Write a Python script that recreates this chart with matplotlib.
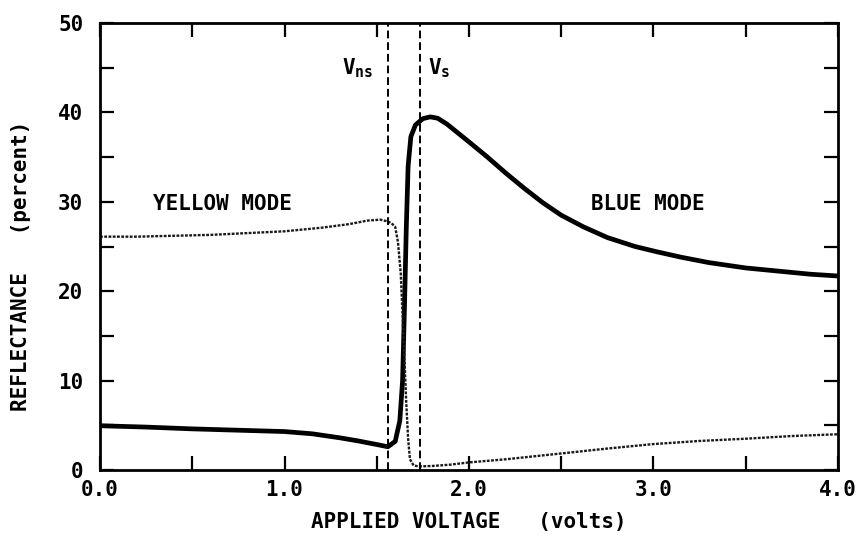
import matplotlib
matplotlib.use("Agg")
import matplotlib.pyplot as plt
from matplotlib.ticker import MultipleLocator, FixedLocator

plt.rcParams['font.family'] = ['DejaVu Sans Mono']
plt.rcParams['font.weight'] = 'bold'
plt.rcParams['axes.labelweight'] = 'bold'
plt.rcParams['mathtext.fontset'] = 'custom'
plt.rcParams['mathtext.rm'] = 'DejaVu Sans Mono:bold'

# Solid (thick) curve: reflectance vs applied voltage
solid_v = [0.0, 0.25, 0.5, 0.75, 1.0, 1.15, 1.3, 1.4, 1.5, 1.56, 1.60, 1.625,
           1.64, 1.65, 1.66, 1.67, 1.685, 1.71, 1.75, 1.79, 1.83, 1.88, 1.94,
           2.0, 2.1, 2.2, 2.3, 2.4, 2.5, 2.62, 2.75, 2.9, 3.02, 3.15, 3.3,
           3.5, 3.7, 3.85, 4.0]
solid_r = [4.95, 4.8, 4.6, 4.45, 4.3, 4.05, 3.6, 3.25, 2.85, 2.6, 3.2, 5.5,
           10.0, 18.0, 27.0, 34.0, 37.3, 38.6, 39.3, 39.5, 39.35, 38.7, 37.7,
           36.7, 35.0, 33.2, 31.5, 29.9, 28.5, 27.2, 26.0, 25.0, 24.4, 23.8,
           23.2, 22.6, 22.2, 21.9, 21.7]

# Dotted (thin) curve
dotted_v = [0.0, 0.2, 0.4, 0.6, 0.8, 1.0, 1.2, 1.35, 1.45, 1.52, 1.56, 1.58,
            1.60, 1.615, 1.63, 1.645, 1.66, 1.67, 1.68, 1.70, 1.73, 1.8, 1.9,
            2.0, 2.2, 2.5, 2.75, 3.0, 3.25, 3.5, 3.75, 4.0]
dotted_r = [26.1, 26.1, 26.2, 26.3, 26.5, 26.7, 27.1, 27.5, 27.9, 28.0, 27.8,
            27.6, 27.2, 25.5, 22.0, 15.0, 7.5, 3.5, 1.2, 0.5, 0.4, 0.45, 0.6,
            0.85, 1.2, 1.85, 2.4, 2.9, 3.25, 3.5, 3.8, 4.0]

v_ns = 1.563
v_s = 1.734

x_tick_vals = [0.0, 1.0, 2.0, 3.0, 4.0]
x_tick_labels = ["0.0", "1.0", "2.0", "3.0", "4.0"]
y_tick_vals = [0, 10, 20, 30, 40, 50]
y_tick_labels = ["0", "10", "20", "30", "40", "50"]

fig = plt.figure(figsize=(8.64, 5.37), dpi=100)
ax = fig.add_axes([100/864, 1-470/537, 738/864, 447/537])

ax.plot(solid_v, solid_r, color='black', lw=3.4, solid_capstyle='round',
        solid_joinstyle='round')
ax.plot(dotted_v, dotted_r, color='#1a1a1a', lw=1.7, linestyle=(0, (1.2, 0.6)))

for v in (v_ns, v_s):
    ax.axvline(v, color='black', lw=1.4, linestyle=(0, (4, 2)))

ax.set_xlim(0, 4)
ax.set_ylim(0, 50)
ax.xaxis.set_major_locator(FixedLocator(x_tick_vals))
ax.set_xticklabels(x_tick_labels)
ax.xaxis.set_minor_locator(MultipleLocator(0.5))
ax.yaxis.set_major_locator(FixedLocator(y_tick_vals))
ax.set_yticklabels(y_tick_labels)
ax.yaxis.set_minor_locator(MultipleLocator(5))

ax.tick_params(which='both', direction='in', top=True, right=True,
               length=10, width=1.6, color='black')
ax.tick_params(axis='x', which='major', labelsize=15, pad=7)
ax.tick_params(axis='y', which='major', labelsize=15, pad=12)

for s in ax.spines.values():
    s.set_linewidth(2.0)

ax.set_xlabel("APPLIED VOLTAGE   (volts)", fontsize=15, va='center',
              fontweight='bold')
ax.xaxis.set_label_coords(0.5, -(522 - 470) / 447)
ax.set_ylabel("REFLECTANCE   (percent)", fontsize=15, va='center',
              fontweight='bold')
ax.yaxis.set_label_coords(-(100 - 21) / 738, (470 - 266) / 447)

ax.text(0.287, 29.1, "YELLOW MODE", fontsize=15, ha='left', va='baseline')
ax.text(2.66, 29.1, "BLUE MODE", fontsize=15, ha='left', va='baseline')
ax.text(1.31, 44.2, r"V$_\mathregular{ns}$", fontsize=15, ha='left', va='baseline')
ax.text(1.78, 44.2, r"V$_\mathregular{s}$", fontsize=15, ha='left', va='baseline')

fig.savefig("out.png", dpi=100)
